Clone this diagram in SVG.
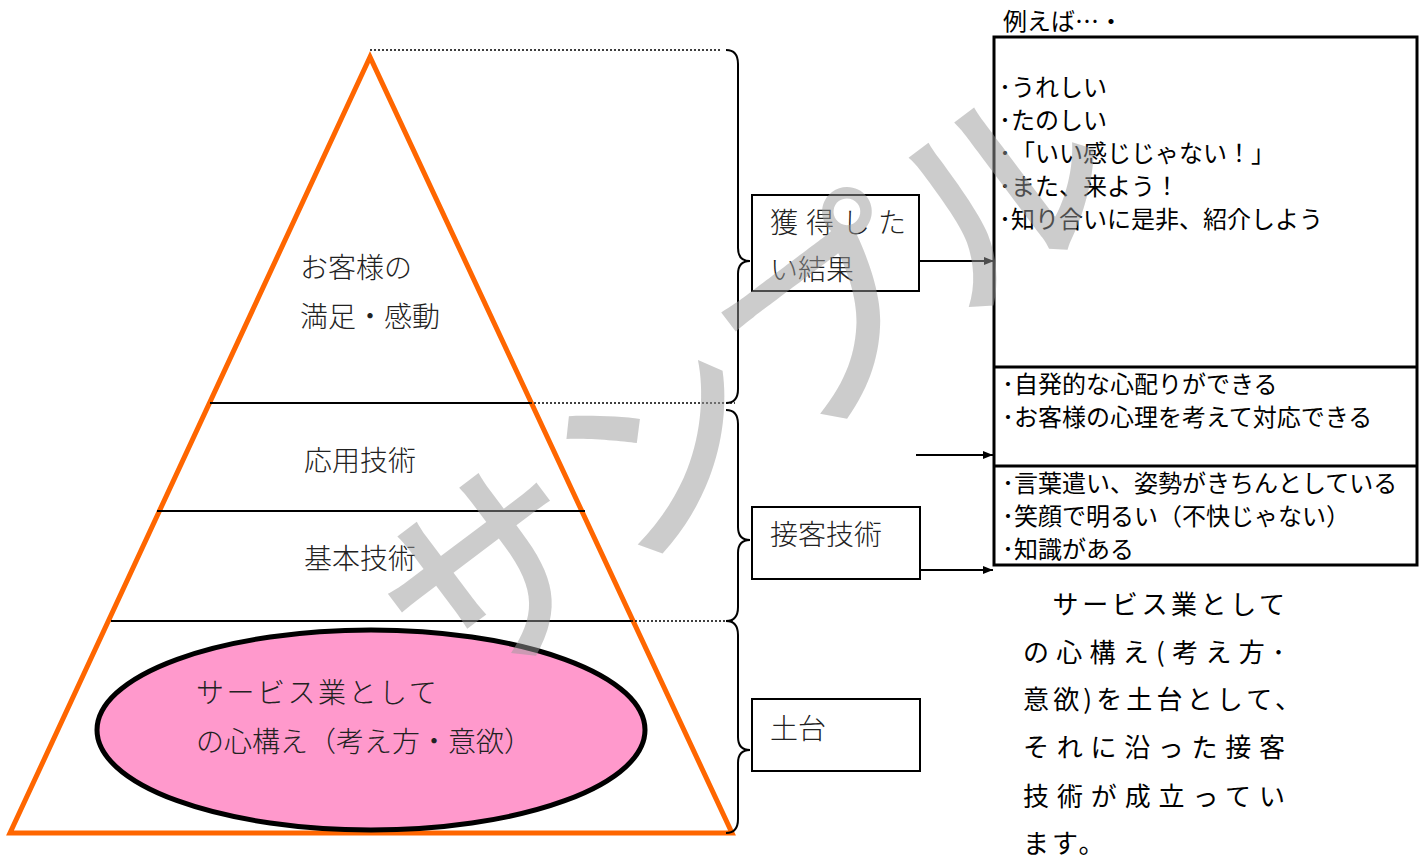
<svg xmlns="http://www.w3.org/2000/svg" width="1419" height="862" viewBox="0 0 1419 862">
<defs>
<marker id="arr" markerWidth="10" markerHeight="8" refX="10" refY="4" orient="auto" markerUnits="userSpaceOnUse">
<path d="M0,0 L10,4 L0,8 Z" fill="#000"/>
</marker>
<style>
.solid{stroke:#000;stroke-width:2;fill:none}
.dot{stroke:#000;stroke-width:1.5;stroke-dasharray:2 2;fill:none}
.brace{stroke:#000;stroke-width:2;fill:none}
.box{fill:#fff;stroke:#000;stroke-width:2}
.conn{stroke:#000;stroke-width:2;fill:none}
.mincho{font-family:"Liberation Serif","Noto Sans CJK JP",serif;fill:#222;font-size:28px;font-weight:300}
.goth{font-family:"Noto Sans CJK JP","Liberation Sans",sans-serif;fill:#000;font-size:24px}
.para{font-family:"Noto Sans CJK JP","Liberation Sans",sans-serif;fill:#000;font-size:26px;font-weight:400}
</style>
</defs>
<rect width="1419" height="862" fill="#fff"/>

<g id="pyramid">
<polygon points="370,57 10,833 732,833" fill="#fff" stroke="#FF6600" stroke-width="5"/>
<line class="solid" x1="210" y1="403" x2="530" y2="403"/>
<line class="solid" x1="157" y1="511" x2="585" y2="511"/>
<line class="solid" x1="111" y1="621" x2="631" y2="621"/>
<text class="mincho" x="300" y="278">お客様の</text>
<text class="mincho" x="300" y="327">満足・感動</text>
<text class="mincho" x="304" y="471">応用技術</text>
<text class="mincho" x="304" y="569">基本技術</text>
</g>

<g id="foundation-ellipse">
<ellipse cx="371" cy="730" rx="274" ry="100" fill="#FF99CC" stroke="#000" stroke-width="5"/>
<text class="mincho" x="196" y="703" font-size="29" letter-spacing="2.5" fill="#333">サービス業として</text>
<text class="mincho" x="196" y="752" font-size="29" fill="#333">の心構え（考え方・意欲）</text>
</g>

<g id="guides">
<line class="dot" x1="370" y1="50" x2="720" y2="50"/>
<line class="dot" x1="530" y1="403" x2="735" y2="403"/>
<line class="dot" x1="631" y1="621" x2="735" y2="621"/>
</g>

<g id="braces">
<path class="brace" d="M726 50 Q738 50 738 64 L738 248 Q738 261 750 261 Q738 261 738 274 L738 389 Q738 403 726 403"/>
<path class="brace" d="M726 410 Q738 410 738 424 L738 527 Q738 540 750 540 Q738 540 738 553 L738 607 Q738 621 726 621"/>
<path class="brace" d="M726 621 Q738 621 738 635 L738 737 Q738 750 750 750 Q738 750 738 763 L738 819 Q738 833 726 833"/>
</g>

<g id="box-result">
<rect class="box" x="752" y="195" width="167" height="96"/>
<text class="mincho" x="770" y="233" font-size="27" letter-spacing="8">獲得した</text>
<text class="mincho" x="770" y="280" font-size="27">い結果</text>
</g>

<g id="box-technique">
<rect class="box" x="752" y="507" width="168" height="72"/>
<text class="mincho" x="770" y="545" font-size="27">接客技術</text>
</g>

<g id="box-base">
<rect class="box" x="752" y="699" width="168" height="72"/>
<text class="mincho" x="770" y="739" font-size="30" fill="#000">土台</text>
</g>

<g id="examples">
<text class="goth" x="1003" y="30" font-size="26" fill="#333">例えば…・</text>
<rect x="994" y="37" width="423" height="528" fill="none" stroke="#000" stroke-width="3"/>
<line x1="994" y1="367" x2="1417" y2="367" stroke="#000" stroke-width="3"/>
<line x1="994" y1="466" x2="1417" y2="466" stroke="#000" stroke-width="3"/>
<text class="goth" x="999" y="96">･うれしい</text>
<text class="goth" x="999" y="129">･たのしい</text>
<text class="goth" x="999" y="162">･「いい感じじゃない！」</text>
<text class="goth" x="999" y="195">･また、来よう！</text>
<text class="goth" x="999" y="228">･知り合いに是非、紹介しよう</text>
<text class="goth" x="1002" y="393">･自発的な心配りができる</text>
<text class="goth" x="1002" y="426">･お客様の心理を考えて対応できる</text>
<text class="goth" x="1002" y="492">･言葉遣い、姿勢がきちんとしている</text>
<text class="goth" x="1002" y="525">･笑顔で明るい（不快じゃない）</text>
<text class="goth" x="1002" y="558">･知識がある</text>
</g>

<g id="connectors">
<line class="conn" x1="919" y1="261" x2="994" y2="261" marker-end="url(#arr)"/>
<line class="conn" x1="916" y1="455" x2="993" y2="455" marker-end="url(#arr)"/>
<line class="conn" x1="920" y1="570" x2="993" y2="570" marker-end="url(#arr)"/>
</g>

<g id="summary">
<text class="para" x="1023" y="614" textLength="262" lengthAdjust="spacing">　サービス業として</text>
<text class="para" x="1023" y="662" textLength="262" lengthAdjust="spacing">の心構え(考え方･</text>
<text class="para" x="1023" y="709" textLength="278" lengthAdjust="spacing">意欲)を土台として、</text>
<text class="para" x="1023" y="757" textLength="262" lengthAdjust="spacing">それに沿った接客</text>
<text class="para" x="1023" y="806" textLength="262" lengthAdjust="spacing">技術が成立ってい</text>
<text class="para" x="1023" y="853" letter-spacing="3">ます。</text>
</g>

<g id="watermark">
<text x="738" y="372" transform="rotate(-37 738 372)" text-anchor="middle" dominant-baseline="central" font-family="'Noto Sans CJK JP',sans-serif" font-size="215" font-weight="500" fill="#999" fill-opacity="0.5">サンプル</text>
</g>
</svg>
